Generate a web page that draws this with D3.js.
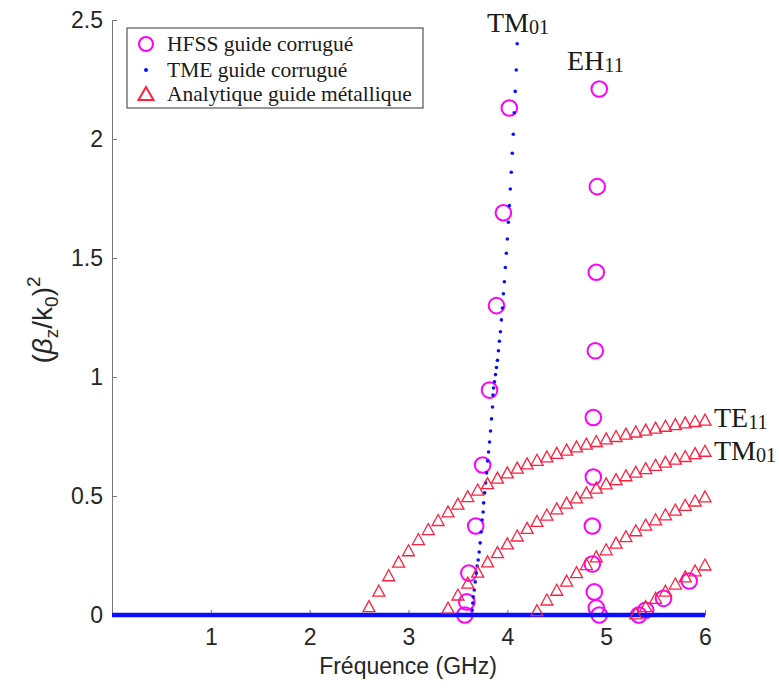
<!DOCTYPE html>
<html><head><meta charset="utf-8">
<script src="https://cdn.jsdelivr.net/npm/d3@7"></script>
<style>body{margin:0;background:#fff}svg{display:block}</style>
</head><body>
<svg id="c" width="779" height="696"></svg>
<script>
// ---- data ----
const xTicks = [1, 2, 3, 4, 5, 6];
const yTicks = [0, 0.5, 1, 1.5, 2, 2.5];
const yTickLabels = ["0", "0.5", "1", "1.5", "2", "2.5"];

// HFSS corrugated guide (circles)
const hfssTM01F = [3.57, 3.59, 3.61, 3.68, 3.75, 3.82, 3.89, 3.96, 4.02];
const hfssTM01V = [0.00, 0.055, 0.176, 0.374, 0.63, 0.945, 1.30, 1.69, 2.13];
const hfssEH11F = [4.93, 4.91, 4.90, 4.89, 4.87, 4.87, 4.86, 4.86, 4.88, 4.90, 4.93];
const hfssEH11V = [2.21, 1.80, 1.44, 1.11, 0.83, 0.58, 0.374, 0.214, 0.097, 0.03, 0.0];
const hfssM3F = [5.33, 5.40, 5.58, 5.84];
const hfssM3V = [0.0, 0.02, 0.07, 0.143];

// TME corrugated guide (dots)
const tmeF = [4.10, 4.09, 4.08, 4.07, 4.06, 4.05, 4.04, 4.03, 4.02, 4.01, 4.00, 3.99, 3.98, 3.97, 3.96, 3.95, 3.94, 3.93, 3.92, 3.91, 3.90, 3.89, 3.88, 3.87, 3.86, 3.855, 3.85, 3.84, 3.83, 3.82, 3.81, 3.80, 3.79, 3.78, 3.77, 3.76, 3.755, 3.745, 3.735, 3.725, 3.715, 3.705, 3.695, 3.685, 3.675, 3.665, 3.655, 3.65, 3.645];
const tmeV = [2.40, 2.29, 2.20, 2.11, 2.02, 1.94, 1.86, 1.79, 1.72, 1.65, 1.58, 1.52, 1.46, 1.40, 1.35, 1.29, 1.24, 1.19, 1.15, 1.11, 1.07, 1.04, 1.01, 0.98, 0.954, 0.924, 0.874, 0.824, 0.773, 0.727, 0.685, 0.647, 0.597, 0.555, 0.513, 0.471, 0.433, 0.399, 0.349, 0.303, 0.265, 0.231, 0.206, 0.176, 0.139, 0.105, 0.076, 0.050, 0.021];
const tmeZeroF = [0, 6];
const tmeZeroV = [0, 0];

// Analytic metallic guide (triangles)
const te11F = [2.6, 2.7, 2.8, 2.9, 3.0, 3.1, 3.2, 3.3, 3.4, 3.5, 3.6, 3.7, 3.8, 3.9, 4.0, 4.1, 4.2, 4.3, 4.4, 4.5, 4.6, 4.7, 4.8, 4.9, 5.0, 5.1, 5.2, 5.3, 5.4, 5.5, 5.6, 5.7, 5.8, 5.9, 6.0];
const te11V = [0.035, 0.10, 0.165, 0.222, 0.27, 0.317, 0.359, 0.397, 0.433, 0.466, 0.497, 0.525, 0.552, 0.575, 0.597, 0.617, 0.635, 0.65, 0.664, 0.679, 0.693, 0.706, 0.718, 0.729, 0.74, 0.75, 0.76, 0.769, 0.777, 0.785, 0.793, 0.80, 0.807, 0.813, 0.819];
const tm01F = [3.4, 3.5, 3.6, 3.7, 3.8, 3.9, 4.0, 4.1, 4.2, 4.3, 4.4, 4.5, 4.6, 4.7, 4.8, 4.9, 5.0, 5.1, 5.2, 5.3, 5.4, 5.5, 5.6, 5.7, 5.8, 5.9, 6.0];
const tm01V = [0.029, 0.084, 0.134, 0.18, 0.223, 0.262, 0.299, 0.332, 0.364, 0.393, 0.42, 0.446, 0.47, 0.492, 0.513, 0.533, 0.551, 0.569, 0.585, 0.60, 0.615, 0.629, 0.642, 0.655, 0.666, 0.678, 0.688];
const te21F = [4.3, 4.4, 4.5, 4.6, 4.7, 4.8, 4.9, 5.0, 5.1, 5.2, 5.3, 5.4, 5.5, 5.6, 5.7, 5.8, 5.9, 6.0];
const te21V = [0.018, 0.063, 0.104, 0.142, 0.178, 0.212, 0.244, 0.274, 0.302, 0.329, 0.354, 0.378, 0.40, 0.421, 0.441, 0.461, 0.479, 0.496];
const m4F = [5.3, 5.4, 5.5, 5.6, 5.7, 5.8, 5.9, 6.0];
const m4V = [0.005, 0.035, 0.07, 0.10, 0.13, 0.16, 0.185, 0.21];

const legendLabels = ["HFSS guide corrugué", "TME guide corrugué", "Analytique guide métallique"];

// ---- drawing ----
const svg = d3.select("#c");
const x = d3.scaleLinear().domain([0, 6]).range([112, 705]);
const y = d3.scaleLinear().domain([0, 2.5]).range([615, 20]);
const sans = "'Liberation Sans', Arial, sans-serif";
const serif = "'Liberation Serif', 'Times New Roman', serif";
const magenta = "#ff00ff", blue = "#0a10ff", red = "#ff2040";
const zip = (a, b) => a.map((v, i) => [v, b[i]]);

// axes
const gy = svg.append("g").attr("transform", "translate(112,0)")
  .call(d3.axisLeft(y).tickValues(yTicks).tickFormat((d, i) => yTickLabels[i]).tickSizeInner(-5).tickSizeOuter(0).tickPadding(9));
const gx = svg.append("g").attr("transform", "translate(0,615)")
  .call(d3.axisBottom(x).tickValues(xTicks).tickFormat(d3.format("d")).tickSizeInner(-5).tickSizeOuter(0).tickPadding(14));
[gx, gy].forEach(g => {
  g.selectAll("path.domain").attr("stroke", "#777").attr("stroke-width", 1);
  g.selectAll("line").attr("stroke", "#777");
  g.selectAll("text").attr("font-family", sans).attr("font-size", 23).attr("fill", "#262626");
});

// axis titles
svg.append("text").attr("x", 408).attr("y", 674).attr("text-anchor", "middle")
  .attr("font-family", sans).attr("font-size", 23).attr("fill", "#262626").text("Fréquence (GHz)");
const yl = svg.append("text").attr("transform", "translate(52,320) rotate(-90)").attr("text-anchor", "middle")
  .attr("font-family", sans).attr("font-size", 28).attr("fill", "#262626");
yl.append("tspan").text("(");
yl.append("tspan").attr("font-style", "italic").text("β");
yl.append("tspan").attr("font-size", 19).attr("dy", 6).text("z");
yl.append("tspan").attr("dy", -6).text("/k");
yl.append("tspan").attr("font-size", 19).attr("dy", 6).text("0");
yl.append("tspan").attr("dy", -6).text(")");
yl.append("tspan").attr("font-size", 19).attr("dy", -12).text("2");

// HFSS circles
const circ = [].concat(zip(hfssTM01F, hfssTM01V), zip(hfssEH11F, hfssEH11V), zip(hfssM3F, hfssM3V));
svg.append("g").selectAll("circle").data(circ).join("circle")
  .attr("cx", d => x(d[0])).attr("cy", d => y(d[1])).attr("r", 7.8)
  .attr("fill", "none").attr("stroke", magenta).attr("stroke-width", 2);

// TME zero branch and dots
svg.append("path").datum(zip(tmeZeroF, tmeZeroV))
  .attr("d", d3.line().x(d => x(d[0])).y(d => y(d[1])))
  .attr("stroke", blue).attr("stroke-width", 4.5).attr("fill", "none");
svg.append("g").selectAll("circle").data(zip(tmeF, tmeV)).join("circle")
  .attr("cx", d => x(d[0])).attr("cy", d => y(d[1])).attr("r", 1.8).attr("fill", blue);

// triangles
const tri = "M0,-6L6,5L-6,5Z";
const tris = [].concat(zip(te11F, te11V), zip(tm01F, tm01V), zip(te21F, te21V), zip(m4F, m4V));
svg.append("g").selectAll("path").data(tris).join("path")
  .attr("d", tri).attr("transform", d => `translate(${x(d[0])},${y(d[1])})`)
  .attr("fill", "none").attr("stroke", red).attr("stroke-width", 1.3);

// annotations
function label(xp, yp, main, sub, size) {
  const t = svg.append("text").attr("x", xp).attr("y", yp).attr("font-family", serif)
    .attr("font-size", size).attr("fill", "#1a1a1a");
  t.append("tspan").text(main);
  t.append("tspan").attr("font-size", size * 0.72).attr("dy", 2).text(sub);
}
label(487, 32, "TM", "01", 28);
label(567, 70, "EH", "11", 28);
label(714, 427, "TE", "11", 28);
label(714, 460, "TM", "01", 28);

// legend
const lg = svg.append("g");
lg.append("rect").attr("x", 127).attr("y", 28).attr("width", 296).attr("height", 80)
  .attr("fill", "#fff").attr("stroke", "#333").attr("stroke-width", 1);
const ly = [44, 70, 94];
lg.append("circle").attr("cx", 146).attr("cy", ly[0]).attr("r", 7).attr("fill", "none").attr("stroke", magenta).attr("stroke-width", 2);
lg.append("circle").attr("cx", 146).attr("cy", ly[1]).attr("r", 2).attr("fill", blue);
lg.append("path").attr("d", "M0,-7L7.5,6L-7.5,6Z").attr("transform", `translate(146,${ly[2]})`)
  .attr("fill", "none").attr("stroke", red).attr("stroke-width", 2);
legendLabels.forEach((s, i) => {
  lg.append("text").attr("x", 167).attr("y", ly[i] + 7).attr("font-family", serif)
    .attr("font-size", 21.5).attr("fill", "#1a1a1a").text(s);
});
</script>
</body></html>
